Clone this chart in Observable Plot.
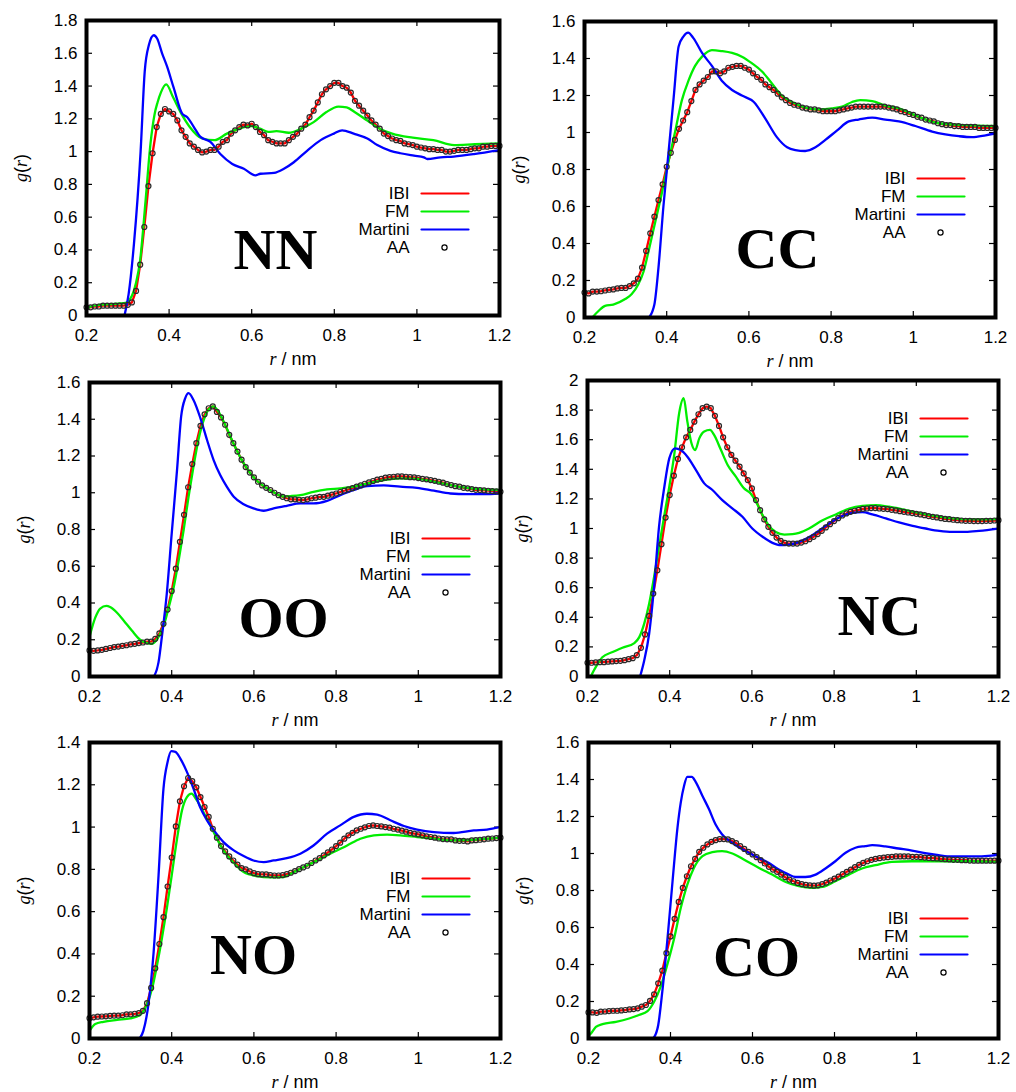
<!DOCTYPE html>
<html><head><meta charset="utf-8">
<script src="https://cdn.jsdelivr.net/npm/d3@7"></script>
<script src="https://cdn.jsdelivr.net/npm/@observablehq/plot@0.6"></script>
<style>
body{margin:0;background:#fff;}
#chart{position:relative;width:1016px;height:1092px;overflow:hidden;background:#fff;}
#chart svg{position:absolute;overflow:visible;}
</style></head><body><div id="chart"></div>
<script>
// ---------- data ----------
const SERIES = ["IBI", "FM", "Martini", "AA"];
const X_TICKS = [0.2, 0.4, 0.6, 0.8, 1, 1.2];
const NN_YT = [0, 0.2, 0.4, 0.6, 0.8, 1, 1.2, 1.4, 1.6, 1.8];
const CC_YT = [0, 0.2, 0.4, 0.6, 0.8, 1, 1.2, 1.4, 1.6];
const OO_YT = [0, 0.2, 0.4, 0.6, 0.8, 1, 1.2, 1.4, 1.6];
const NC_YT = [0, 0.2, 0.4, 0.6, 0.8, 1, 1.2, 1.4, 1.6, 1.8, 2];
const NO_YT = [0, 0.2, 0.4, 0.6, 0.8, 1, 1.2, 1.4];
const CO_YT = [0, 0.2, 0.4, 0.6, 0.8, 1, 1.2, 1.4, 1.6];

// AA sampling grid r = 0.20 ... 1.20 nm (step 0.01); IBI coincides with AA
const AA_R = d3.range(101).map(i => Math.round((0.2 + i * 0.01) * 100) / 100);

const NN_AA = [0.05,0.05,0.055,0.055,0.06,0.06,0.06,0.06,0.06,0.06,
0.065,0.08,0.15,0.31,0.54,0.79,0.99,1.15,1.23,1.26,
1.245,1.23,1.19,1.13,1.09,1.05,1.03,1.01,0.995,1.0,
1.01,1.01,1.03,1.06,1.07,1.11,1.13,1.15,1.165,1.16,
1.17,1.15,1.12,1.10,1.07,1.06,1.05,1.05,1.05,1.07,
1.09,1.11,1.14,1.165,1.21,1.25,1.30,1.35,1.38,1.40,
1.42,1.42,1.40,1.39,1.36,1.31,1.28,1.25,1.22,1.19,
1.165,1.14,1.11,1.095,1.08,1.07,1.065,1.05,1.045,1.04,
1.03,1.025,1.02,1.015,1.015,1.01,1.01,1.0,1.0,1.005,
1.01,1.01,1.01,1.015,1.02,1.02,1.03,1.03,1.035,1.035,
1.035];
const NN_FM = [[0.20,0.035],[0.21,0.055],[0.23,0.065],[0.26,0.07],[0.29,0.075],[0.30,0.085],[0.31,0.12],[0.32,0.2],[0.33,0.34],[0.343,0.70],[0.355,1.05],[0.365,1.23],[0.372,1.30],[0.38,1.36],[0.393,1.41],[0.41,1.33],[0.43,1.23],[0.45,1.15],[0.48,1.08],[0.51,1.07],[0.54,1.11],[0.57,1.14],[0.60,1.155],[0.62,1.14],[0.64,1.12],[0.66,1.125],[0.69,1.115],[0.72,1.14],[0.75,1.18],[0.78,1.24],[0.81,1.275],[0.83,1.27],[0.85,1.24],[0.88,1.19],[0.91,1.14],[0.94,1.11],[0.99,1.085],[1.04,1.07],[1.09,1.04],[1.14,1.045],[1.2,1.05]];
const NN_MART = [[0.292,0],[0.302,0.13],[0.315,0.44],[0.331,1.0],[0.341,1.49],[0.351,1.65],[0.363,1.71],[0.371,1.69],[0.383,1.60],[0.395,1.52],[0.411,1.39],[0.432,1.23],[0.444,1.21],[0.46,1.15],[0.476,1.09],[0.50,1.06],[0.524,0.985],[0.553,0.925],[0.581,0.895],[0.609,0.855],[0.621,0.865],[0.654,0.87],[0.678,0.895],[0.702,0.935],[0.734,1.005],[0.767,1.07],[0.799,1.11],[0.819,1.13],[0.847,1.11],[0.88,1.08],[0.904,1.04],[0.936,1.005],[0.96,0.99],[0.993,0.975],[1.017,0.965],[1.025,0.955],[1.057,0.965],[1.089,0.97],[1.138,0.985],[1.2,1.01]];

const CC_AA = [0.135,0.13,0.14,0.14,0.142,0.146,0.15,0.152,0.157,0.16,
0.16,0.17,0.185,0.21,0.27,0.36,0.455,0.545,0.635,0.72,
0.815,0.89,0.96,1.02,1.065,1.11,1.17,1.23,1.26,1.28,
1.30,1.33,1.33,1.32,1.33,1.35,1.355,1.36,1.36,1.35,
1.34,1.32,1.30,1.285,1.26,1.245,1.23,1.21,1.19,1.175,
1.16,1.15,1.145,1.135,1.13,1.125,1.125,1.12,1.115,1.115,
1.115,1.115,1.12,1.125,1.13,1.135,1.14,1.14,1.14,1.14,
1.14,1.14,1.14,1.14,1.135,1.13,1.125,1.115,1.11,1.10,
1.095,1.085,1.08,1.07,1.065,1.06,1.05,1.045,1.04,1.04,
1.035,1.035,1.03,1.03,1.03,1.03,1.025,1.025,1.025,1.025,
1.025];
const CC_FM = [[0.219,0],[0.234,0.035],[0.25,0.063],[0.27,0.07],[0.299,0.10],[0.315,0.127],[0.331,0.18],[0.344,0.25],[0.356,0.36],[0.372,0.515],[0.388,0.67],[0.405,0.85],[0.421,1.01],[0.437,1.175],[0.453,1.28],[0.469,1.36],[0.486,1.41],[0.51,1.445],[0.534,1.44],[0.559,1.43],[0.583,1.41],[0.607,1.375],[0.632,1.33],[0.656,1.265],[0.68,1.20],[0.705,1.165],[0.737,1.135],[0.77,1.125],[0.802,1.13],[0.827,1.14],[0.851,1.165],[0.871,1.175],[0.9,1.17],[0.932,1.145],[0.965,1.13],[1.013,1.085],[1.062,1.05],[1.127,1.04],[1.2,1.035]];
const CC_MART = [[0.357,0],[0.37,0.07],[0.38,0.27],[0.392,0.6],[0.405,0.905],[0.417,1.19],[0.429,1.465],[0.441,1.52],[0.452,1.54],[0.465,1.51],[0.486,1.43],[0.51,1.36],[0.534,1.28],[0.559,1.23],[0.583,1.20],[0.612,1.165],[0.64,1.075],[0.668,0.975],[0.693,0.92],[0.713,0.905],[0.737,0.90],[0.762,0.92],[0.786,0.96],[0.814,1.01],[0.843,1.06],[0.867,1.07],[0.9,1.08],[0.932,1.07],[0.965,1.06],[1.005,1.035],[1.046,1.005],[1.078,0.99],[1.111,0.98],[1.143,0.975],[1.176,0.985],[1.2,0.995]];

const OO_AA = [0.142,0.14,0.142,0.145,0.15,0.155,0.16,0.163,0.167,0.17,
0.175,0.178,0.182,0.185,0.19,0.19,0.205,0.235,0.287,0.364,
0.465,0.587,0.733,0.88,1.03,1.156,1.27,1.364,1.427,1.46,
1.47,1.44,1.41,1.37,1.315,1.27,1.224,1.18,1.14,1.11,
1.084,1.06,1.04,1.027,1.015,1.0,0.987,0.978,0.97,0.964,
0.964,0.962,0.96,0.964,0.97,0.973,0.978,0.978,0.984,0.99,
0.996,1.004,1.011,1.018,1.025,1.033,1.04,1.049,1.056,1.064,
1.071,1.076,1.082,1.085,1.087,1.089,1.089,1.087,1.085,1.084,
1.08,1.076,1.073,1.069,1.065,1.06,1.055,1.047,1.042,1.036,
1.033,1.027,1.024,1.02,1.016,1.015,1.013,1.011,1.009,1.007,
1.005];
const OO_FM = [[0.2,0.215],[0.214,0.32],[0.226,0.37],[0.241,0.384],[0.25,0.378],[0.267,0.347],[0.283,0.305],[0.303,0.25],[0.323,0.2],[0.34,0.182],[0.352,0.178],[0.362,0.196],[0.372,0.233],[0.382,0.287],[0.392,0.37],[0.405,0.487],[0.417,0.633],[0.429,0.796],[0.441,0.978],[0.453,1.142],[0.465,1.287],[0.478,1.396],[0.49,1.455],[0.502,1.47],[0.514,1.44],[0.53,1.37],[0.55,1.27],[0.57,1.18],[0.59,1.11],[0.61,1.06],[0.63,1.027],[0.65,1.0],[0.67,0.98],[0.689,0.982],[0.713,0.987],[0.745,1.005],[0.778,1.018],[0.81,1.024],[0.843,1.033],[0.875,1.05],[0.916,1.069],[0.956,1.078],[0.997,1.075],[1.038,1.06],[1.078,1.042],[1.119,1.027],[1.159,1.018],[1.2,1.015]];
const OO_MART = [[0.357,0],[0.368,0.078],[0.376,0.215],[0.388,0.45],[0.4,0.778],[0.413,1.124],[0.423,1.415],[0.433,1.515],[0.441,1.542],[0.453,1.505],[0.47,1.405],[0.486,1.287],[0.502,1.178],[0.518,1.096],[0.534,1.033],[0.551,0.978],[0.575,0.938],[0.599,0.915],[0.624,0.902],[0.648,0.915],[0.68,0.929],[0.713,0.942],[0.745,0.942],[0.778,0.956],[0.81,0.987],[0.843,1.015],[0.875,1.036],[0.916,1.04],[0.956,1.033],[0.997,1.027],[1.038,1.011],[1.078,0.996],[1.119,0.993],[1.159,0.993],[1.2,0.996]];

const NC_AA = [0.093,0.093,0.095,0.097,0.097,0.1,0.102,0.104,0.106,0.11,
0.117,0.124,0.144,0.194,0.284,0.409,0.56,0.718,0.894,1.074,
1.226,1.357,1.47,1.549,1.616,1.666,1.722,1.772,1.813,1.824,
1.813,1.761,1.693,1.616,1.549,1.497,1.458,1.418,1.372,1.327,
1.271,1.192,1.124,1.061,1.011,0.971,0.939,0.916,0.903,0.898,
0.898,0.898,0.905,0.914,0.928,0.944,0.962,0.984,1.007,1.029,
1.05,1.07,1.088,1.102,1.113,1.12,1.126,1.133,1.135,1.138,
1.138,1.135,1.133,1.131,1.126,1.122,1.117,1.113,1.108,1.104,
1.099,1.095,1.09,1.084,1.079,1.075,1.07,1.065,1.063,1.059,
1.056,1.054,1.052,1.052,1.05,1.05,1.05,1.052,1.052,1.054,
1.056];
const NC_FM = [[0.208,0],[0.22,0.063],[0.236,0.13],[0.261,0.165],[0.285,0.194],[0.314,0.226],[0.326,0.266],[0.338,0.357],[0.35,0.492],[0.362,0.673],[0.374,0.876],[0.387,1.09],[0.399,1.282],[0.411,1.497],[0.423,1.779],[0.434,1.88],[0.443,1.722],[0.453,1.576],[0.462,1.53],[0.472,1.609],[0.484,1.655],[0.498,1.666],[0.508,1.632],[0.524,1.535],[0.541,1.429],[0.561,1.35],[0.581,1.271],[0.597,1.237],[0.61,1.181],[0.626,1.09],[0.642,1.016],[0.658,0.977],[0.679,0.959],[0.699,0.962],[0.715,0.971],[0.739,1.0],[0.772,1.056],[0.804,1.095],[0.837,1.135],[0.869,1.153],[0.902,1.158],[0.934,1.147],[0.975,1.124],[1.023,1.095],[1.072,1.074],[1.12,1.063],[1.169,1.061],[1.2,1.065]];
const NC_MART = [[0.328,0],[0.338,0.108],[0.35,0.289],[0.362,0.605],[0.374,1.011],[0.387,1.282],[0.399,1.474],[0.413,1.542],[0.427,1.53],[0.443,1.485],[0.464,1.395],[0.484,1.305],[0.504,1.26],[0.528,1.192],[0.553,1.135],[0.577,1.079],[0.601,1.0],[0.626,0.944],[0.65,0.903],[0.67,0.887],[0.691,0.891],[0.715,0.91],[0.747,0.955],[0.78,1.018],[0.812,1.074],[0.845,1.106],[0.869,1.11],[0.893,1.095],[0.926,1.068],[0.958,1.041],[0.991,1.018],[1.023,1.0],[1.056,0.984],[1.088,0.977],[1.12,0.977],[1.153,0.984],[1.2,1.0]];

const NO_AA = [0.096,0.1,0.103,0.104,0.105,0.107,0.108,0.108,0.11,0.114,
0.114,0.117,0.12,0.131,0.167,0.239,0.332,0.447,0.574,0.719,
0.856,1.003,1.122,1.193,1.232,1.217,1.188,1.142,1.095,1.048,
0.992,0.95,0.91,0.885,0.861,0.842,0.822,0.806,0.8,0.79,
0.782,0.777,0.776,0.776,0.773,0.771,0.771,0.773,0.777,0.784,
0.792,0.801,0.809,0.817,0.83,0.842,0.853,0.866,0.88,0.894,
0.91,0.926,0.945,0.961,0.973,0.984,0.992,0.999,1.005,1.008,
1.005,1.003,1.0,0.997,0.992,0.988,0.983,0.978,0.973,0.969,
0.965,0.961,0.956,0.953,0.95,0.946,0.943,0.942,0.942,0.937,
0.935,0.935,0.932,0.937,0.938,0.94,0.942,0.945,0.946,0.948,
0.95];
const NO_FM = [[0.2,0.036],[0.214,0.068],[0.234,0.079],[0.267,0.088],[0.299,0.095],[0.323,0.111],[0.34,0.163],[0.352,0.234],[0.364,0.344],[0.376,0.471],[0.388,0.613],[0.4,0.771],[0.413,0.945],[0.425,1.079],[0.437,1.142],[0.448,1.158],[0.461,1.127],[0.478,1.068],[0.494,1.008],[0.51,0.945],[0.526,0.89],[0.551,0.831],[0.575,0.787],[0.607,0.768],[0.64,0.762],[0.672,0.763],[0.697,0.787],[0.729,0.818],[0.762,0.85],[0.794,0.882],[0.827,0.913],[0.859,0.945],[0.892,0.961],[0.924,0.964],[0.956,0.961],[0.997,0.953],[1.038,0.945],[1.086,0.937],[1.135,0.94],[1.2,0.95]];
const NO_MART = [[0.322,0],[0.331,0.036],[0.344,0.171],[0.356,0.408],[0.368,0.771],[0.38,1.182],[0.39,1.308],[0.399,1.359],[0.409,1.356],[0.421,1.324],[0.437,1.261],[0.453,1.182],[0.469,1.095],[0.486,1.032],[0.506,0.976],[0.526,0.929],[0.551,0.89],[0.575,0.863],[0.599,0.842],[0.624,0.834],[0.648,0.842],[0.68,0.853],[0.713,0.874],[0.745,0.913],[0.778,0.969],[0.81,1.008],[0.843,1.048],[0.875,1.063],[0.9,1.059],[0.932,1.032],[0.965,1.005],[0.997,0.988],[1.038,0.976],[1.086,0.972],[1.135,0.984],[1.167,0.988],[1.2,1.0]];

const CO_AA = [0.141,0.141,0.139,0.145,0.146,0.148,0.15,0.15,0.152,0.154,
0.157,0.159,0.163,0.172,0.181,0.203,0.239,0.298,0.367,0.461,
0.552,0.647,0.738,0.814,0.877,0.931,0.971,1.009,1.031,1.049,
1.063,1.072,1.078,1.078,1.076,1.067,1.056,1.04,1.025,1.009,
0.995,0.98,0.964,0.946,0.928,0.913,0.901,0.886,0.872,0.859,
0.85,0.841,0.835,0.83,0.828,0.826,0.828,0.835,0.843,0.854,
0.864,0.875,0.888,0.901,0.913,0.926,0.939,0.949,0.958,0.966,
0.971,0.975,0.978,0.98,0.982,0.984,0.984,0.984,0.984,0.982,
0.982,0.98,0.978,0.976,0.975,0.973,0.971,0.969,0.968,0.966,
0.966,0.964,0.964,0.962,0.961,0.961,0.961,0.961,0.961,0.961,
0.961];
const CO_FM = [[0.2,0.015],[0.206,0.027],[0.218,0.063],[0.234,0.078],[0.267,0.09],[0.299,0.108],[0.323,0.127],[0.344,0.148],[0.36,0.199],[0.376,0.28],[0.392,0.398],[0.409,0.542],[0.425,0.705],[0.441,0.832],[0.457,0.922],[0.478,0.986],[0.502,1.007],[0.526,1.013],[0.551,1.0],[0.583,0.962],[0.616,0.922],[0.648,0.886],[0.681,0.846],[0.713,0.823],[0.745,0.814],[0.77,0.819],[0.802,0.85],[0.835,0.886],[0.867,0.919],[0.9,0.937],[0.94,0.955],[0.989,0.958],[1.038,0.958],[1.086,0.958],[1.135,0.958],[1.2,0.955]];
const CO_MART = [[0.358,0],[0.37,0.072],[0.38,0.253],[0.392,0.524],[0.405,0.85],[0.417,1.139],[0.425,1.275],[0.433,1.365],[0.441,1.414],[0.452,1.414],[0.461,1.389],[0.478,1.311],[0.494,1.239],[0.51,1.157],[0.526,1.103],[0.547,1.063],[0.567,1.034],[0.591,1.004],[0.616,0.976],[0.64,0.949],[0.664,0.913],[0.685,0.89],[0.705,0.873],[0.729,0.873],[0.754,0.886],[0.778,0.919],[0.802,0.958],[0.827,1.004],[0.851,1.031],[0.875,1.04],[0.892,1.045],[0.924,1.038],[0.956,1.027],[0.989,1.016],[1.021,1.002],[1.054,0.991],[1.086,0.984],[1.135,0.984],[1.183,0.989],[1.2,0.995]];

// ---------- layout / style ----------
const RED = "#ff0000", GREEN = "#00ee00", BLUE = "#0000ff";
const SANS = "'Liberation Sans', Arial, sans-serif";
const SERIF = "'Liberation Serif', 'Times New Roman', serif";

const panels = [
  {name:"NN", aa:NN_AA, fm:NN_FM, mart:NN_MART, yt:NN_YT, x0:0,   y0:0,   L:86,  T:20,  R:499, B:315,  leg:173, ldx:189, ldy:248},
  {name:"CC", aa:CC_AA, fm:CC_FM, mart:CC_MART, yt:CC_YT, x0:508, y0:0,   L:584, T:21,  R:995, B:317,  leg:157, ldx:193, ldy:246},
  {name:"OO", aa:OO_AA, fm:OO_FM, mart:OO_MART, yt:OO_YT, x0:0,   y0:365, L:89,  T:382, R:500, B:676,  leg:156, ldx:194, ldy:254},
  {name:"NC", aa:NC_AA, fm:NC_FM, mart:NC_MART, yt:NC_YT, x0:508, y0:365, L:587, T:380, R:998, B:676,  leg:38,  ldx:292, ldy:254},
  {name:"NO", aa:NO_AA, fm:NO_FM, mart:NO_MART, yt:NO_YT, x0:0,   y0:727, L:89,  T:742, R:500, B:1038, leg:136, ldx:164, ldy:231},
  {name:"CO", aa:CO_AA, fm:CO_FM, mart:CO_MART, yt:CO_YT, x0:508, y0:727, L:588, T:742, R:998, B:1038, leg:176, ldx:168, ldy:233}
];
const SVG_W = 508, SVG_H = 365, TICK = 6, ROW = 18;
const lineShape = {draw(ctx, l) { ctx.moveTo(0, 0); ctx.lineTo(0, -l); }};
const svgNS = "http://www.w3.org/2000/svg";

function rich(t, parts) {
  t.textContent = "";
  for (const [s, it] of parts) {
    const ts = document.createElementNS(svgNS, "tspan");
    ts.textContent = s;
    if (it) { ts.setAttribute("font-style", "italic"); ts.setAttribute("font-family", SERIF); }
    t.appendChild(ts);
  }
}

const chart = document.getElementById("chart");
for (const p of panels) {
  const w = p.R - p.L, h = p.B - p.T;
  const aa = AA_R.map((r, i) => ({r, g: p.aa[i]}));
  const fm = p.fm.map(([r, g]) => ({r, g}));
  const mart = p.mart.map(([r, g]) => ({r, g}));
  const ymax = p.yt[p.yt.length - 1];
  const legColors = [RED, GREEN, BLUE];
  const legend = [];
  SERIES.forEach((s, i) => {
    const dy = p.leg + i * ROW;
    legend.push(Plot.text([s], {text: d => d, frameAnchor: "top-right", dx: -90, dy, textAnchor: "end", lineAnchor: "middle", fontSize: 17, fill: "black"}));
    if (i < 3) legend.push(Plot.vector([0], {frameAnchor: "top-right", dx: -78, dy, length: 47, rotate: 90, anchor: "start", shape: lineShape, stroke: legColors[i], strokeWidth: 2.2}));
    else legend.push(Plot.dot([0], {frameAnchor: "top-right", dx: -55, dy, r: 2.6, stroke: "black", fill: "white", strokeWidth: 1.2}));
  });
  const svg = Plot.plot({
    width: SVG_W, height: SVG_H,
    marginLeft: p.L - p.x0, marginTop: p.T - p.y0,
    marginRight: p.x0 + SVG_W - p.R, marginBottom: p.y0 + SVG_H - p.B,
    style: {background: "transparent", overflow: "visible", fontFamily: SANS, color: "black"},
    x: {domain: [0.2, 1.2], axis: null},
    y: {domain: [0, ymax], axis: null},
    marks: [
      Plot.tickX(X_TICKS, {x: d => d, insetTop: h - TICK, stroke: "black", strokeWidth: 1.2}),
      Plot.tickX(X_TICKS, {x: d => d, insetBottom: h - TICK, stroke: "black", strokeWidth: 1.2}),
      Plot.tickY(p.yt, {y: d => d, insetRight: w - TICK, stroke: "black", strokeWidth: 1.2}),
      Plot.tickY(p.yt, {y: d => d, insetLeft: w - TICK, stroke: "black", strokeWidth: 1.2}),
      Plot.axisX({ticks: X_TICKS, tickSize: 0, tickPadding: 13, tickFormat: d => String(d), fontSize: 17, label: null}),
      Plot.axisY({ticks: p.yt, tickSize: 0, tickPadding: 9, tickFormat: d => String(d), fontSize: 17, label: null}),
      Plot.line(aa, {x: "r", y: "g", stroke: RED, strokeWidth: 2.3, clip: true}),
      Plot.line(fm, {x: "r", y: "g", stroke: GREEN, strokeWidth: 2.3, curve: "monotone-x", clip: true}),
      Plot.line(mart, {x: "r", y: "g", stroke: BLUE, strokeWidth: 2.3, curve: "monotone-x", clip: true}),
      Plot.dot(aa, {x: "r", y: "g", r: 2.5, stroke: "#2a2a2a", strokeWidth: 1.2, fill: "none"}),
      ...legend,
      Plot.text([p.name], {text: d => d, frameAnchor: "top-left", dx: p.ldx, dy: p.ldy, textAnchor: "middle", lineAnchor: "bottom", fontFamily: SERIF, fontWeight: "bold", fontSize: 58, fill: "black"}),
      Plot.text(["g(r)"], {text: d => d, frameAnchor: "left", dx: -65, rotate: -90, textAnchor: "middle", lineAnchor: "middle", fontSize: 18, fill: "black"}),
      Plot.text(["r / nm"], {text: d => d, frameAnchor: "bottom", dy: 44, textAnchor: "middle", lineAnchor: "middle", fontSize: 18, fill: "black"}),
      Plot.frame({stroke: "black", strokeWidth: 4})
    ]
  });
  for (const t of svg.querySelectorAll("text")) {
    if (t.textContent === "g(r)") rich(t, [["g", true], ["(", false], ["r", true], [")", false]]);
    else if (t.textContent === "r / nm") rich(t, [["r", true], [" / nm", false]]);
  }
  svg.style.left = p.x0 + "px";
  svg.style.top = p.y0 + "px";
  chart.appendChild(svg);
}
</script>
</body></html>
